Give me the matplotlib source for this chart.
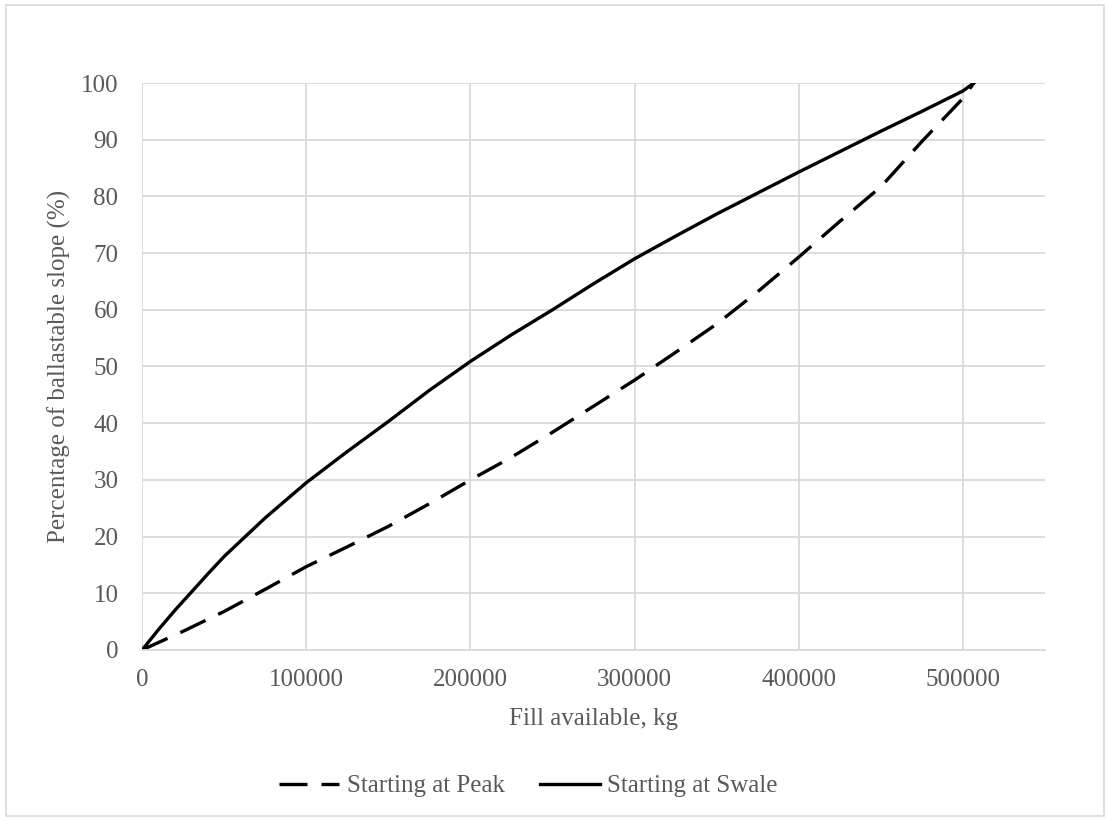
import matplotlib
matplotlib.use("Agg")
import matplotlib.pyplot as plt
from matplotlib.patches import Rectangle

# fill available (kg) and percentage of ballastable slope (%)
fill_peak = [0, 25000, 50000, 75000, 100000, 125000, 150000, 175000, 200000,
             225000, 250000, 275000, 300000, 325000, 350000, 375000, 400000,
             425000, 450000, 475000, 500000, 506600]
pct_peak = [0, 3.3, 6.8, 10.7, 14.7, 18.2, 21.8, 25.8, 30, 34, 38.4, 43,
            47.6, 52.5, 57.5, 63.2, 69.3, 75.6, 81.7, 89.7, 97.3, 100]

fill_swale = [0, 10000, 20000, 30000, 40000, 50000, 75000, 100000, 125000,
              150000, 175000, 200000, 225000, 250000, 275000, 300000, 325000,
              350000, 375000, 400000, 425000, 450000, 475000, 500000, 506600]
pct_swale = [0, 3.6, 7, 10.2, 13.4, 16.5, 23.3, 29.5, 35, 40.3, 45.8, 50.9,
             55.6, 60, 64.6, 69, 73, 76.9, 80.6, 84.3, 87.9, 91.5, 95, 98.6,
             100]

labels = ["Starting at Peak", "Starting at Swale"]
x_ticks = [0, 100000, 200000, 300000, 400000, 500000]
y_ticks = list(range(0, 101, 10))

plt.rcParams['font.family'] = ['Liberation Serif', 'DejaVu Serif']
TXT = "#595959"
GRID = "#d9d9d9"
FS = 18

fig = plt.figure(figsize=(11.1, 8.21), dpi=100)
ax = fig.add_axes([0.128, 0.2083, 0.8135, 0.6906])

ax.plot(fill_peak, pct_peak, color="black", lw=2.4, dashes=(8.4, 4.2),
        label=labels[0])
ax.plot(fill_swale, pct_swale, color="black", lw=2.4, label=labels[1])

ax.set_xlim(0, 550000)
ax.set_ylim(0, 100)
ax.set_xticks(x_ticks)
ax.set_yticks(y_ticks)
ax.set_xticklabels([str(v) for v in x_ticks])
ax.tick_params(length=0, labelsize=FS, labelcolor=TXT)
ax.tick_params(axis="x", pad=14)
ax.tick_params(axis="y", pad=17)
ax.grid(True, color=GRID, lw=1.3)
ax.set_axisbelow(True)
for s in ["top", "right", "left"]:
    ax.spines[s].set_visible(False)
ax.spines["bottom"].set_color(GRID)
ax.spines["bottom"].set_linewidth(1.3)

ax.set_xlabel("Fill available, kg", fontsize=FS, color=TXT, labelpad=12)
ax.set_ylabel("Percentage of ballastable slope (%)", fontsize=FS,
              color=TXT, labelpad=7)

fig.legend(loc="center", bbox_to_anchor=(0.476, 1 - 786 / 821), ncol=2,
           frameon=False, fontsize=FS, labelcolor=TXT, handlelength=2.4,
           handletextpad=0.3, columnspacing=1.4)

# outer chart border
fig.patches.append(Rectangle((0.005, 0.006), 0.99, 0.988,
                             transform=fig.transFigure, fill=False,
                             edgecolor=GRID, lw=1.2))

fig.savefig("out.png", dpi=100)
